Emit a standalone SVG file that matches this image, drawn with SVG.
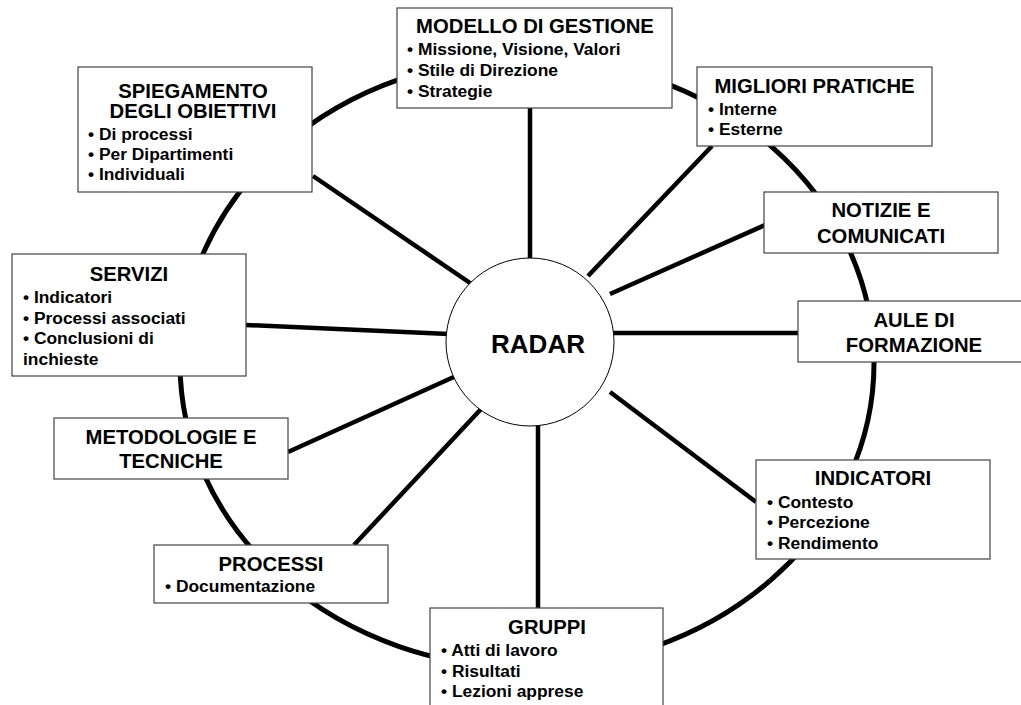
<svg xmlns="http://www.w3.org/2000/svg" width="1021" height="705" viewBox="0 0 1021 705">
<style>
.box{fill:#fff;stroke:#444;stroke-width:1.2}
.t{font-family:"Liberation Sans",Arial,sans-serif;font-weight:bold;font-size:20.3px;fill:#000;text-anchor:middle}
.b{font-family:"Liberation Sans",Arial,sans-serif;font-weight:bold;font-size:17.4px;fill:#000}
.spoke{stroke:#000;stroke-width:4.5;fill:none}
</style>
<rect width="1021" height="705" fill="#fff"/>
<ellipse id="ring" cx="527" cy="363" rx="347" ry="305" fill="none" stroke="#000" stroke-width="5"/>
<g id="connectors" class="spoke">
<line x1="530" y1="108" x2="530" y2="262"/>
<line x1="313" y1="176" x2="473" y2="285"/>
<line x1="712" y1="146" x2="588" y2="276"/>
<line x1="765" y1="225" x2="610" y2="294"/>
<line x1="798" y1="333" x2="612" y2="333"/>
<line x1="756" y1="502" x2="610" y2="392"/>
<line x1="538" y1="608" x2="538" y2="424"/>
<line x1="354" y1="545" x2="482" y2="408"/>
<line x1="288" y1="452" x2="456" y2="376"/>
<line x1="246" y1="325" x2="449" y2="334"/>
</g>
<g id="radar">
<circle cx="530" cy="342" r="84" fill="#fff" stroke="#000" stroke-width="1"/>
<text class="t" x="538" y="353" style="font-size:26px">RADAR</text>
</g>
<g id="modello">
<rect class="box" x="397" y="8" width="275" height="100"/>
<text class="t" x="535" y="33">MODELLO DI GESTIONE</text>
<text class="b" x="407" y="55">• Missione, Visione, Valori</text>
<text class="b" x="407" y="76">• Stile di Direzione</text>
<text class="b" x="407" y="97">• Strategie</text>
</g>
<g id="spiegamento">
<rect class="box" x="78" y="67" width="234" height="125"/>
<text class="t" x="193" y="98">SPIEGAMENTO</text>
<text class="t" x="193" y="118">DEGLI OBIETTIVI</text>
<text class="b" x="88" y="140">• Di processi</text>
<text class="b" x="88" y="160">• Per Dipartimenti</text>
<text class="b" x="88" y="180">• Individuali</text>
</g>
<g id="migliori">
<rect class="box" x="697" y="67" width="235" height="79"/>
<text class="t" x="814.5" y="93">MIGLIORI PRATICHE</text>
<text class="b" x="708" y="115">• Interne</text>
<text class="b" x="708" y="135">• Esterne</text>
</g>
<g id="notizie">
<rect class="box" x="764" y="192" width="234" height="61"/>
<text class="t" x="881" y="217">NOTIZIE E</text>
<text class="t" x="881" y="243">COMUNICATI</text>
</g>
<g id="aule">
<rect class="box" x="798" y="301" width="234" height="61"/>
<text class="t" x="914" y="327">AULE DI</text>
<text class="t" x="914" y="352">FORMAZIONE</text>
</g>
<g id="indicatori">
<rect class="box" x="756" y="460" width="234" height="99"/>
<text class="t" x="873" y="485">INDICATORI</text>
<text class="b" x="767" y="508">• Contesto</text>
<text class="b" x="767" y="528">• Percezione</text>
<text class="b" x="767" y="549">• Rendimento</text>
</g>
<g id="gruppi">
<rect class="box" x="430" y="608" width="233" height="110"/>
<text class="t" x="547" y="634">GRUPPI</text>
<text class="b" x="441" y="656">• Atti di lavoro</text>
<text class="b" x="441" y="677">• Risultati</text>
<text class="b" x="441" y="697">• Lezioni apprese</text>
</g>
<g id="processi">
<rect class="box" x="154" y="545" width="234" height="58"/>
<text class="t" x="271" y="571">PROCESSI</text>
<text class="b" x="165" y="592">• Documentazione</text>
</g>
<g id="metodologie">
<rect class="box" x="54" y="418" width="234" height="61"/>
<text class="t" x="171" y="444">METODOLOGIE E</text>
<text class="t" x="171" y="468">TECNICHE</text>
</g>
<g id="servizi">
<rect class="box" x="12" y="254" width="234" height="122"/>
<text class="t" x="129" y="281">SERVIZI</text>
<text class="b" x="23" y="303">• Indicatori</text>
<text class="b" x="23" y="324">• Processi associati</text>
<text class="b" x="23" y="344">• Conclusioni di</text>
<text class="b" x="23" y="365">inchieste</text>
</g>
</svg>
